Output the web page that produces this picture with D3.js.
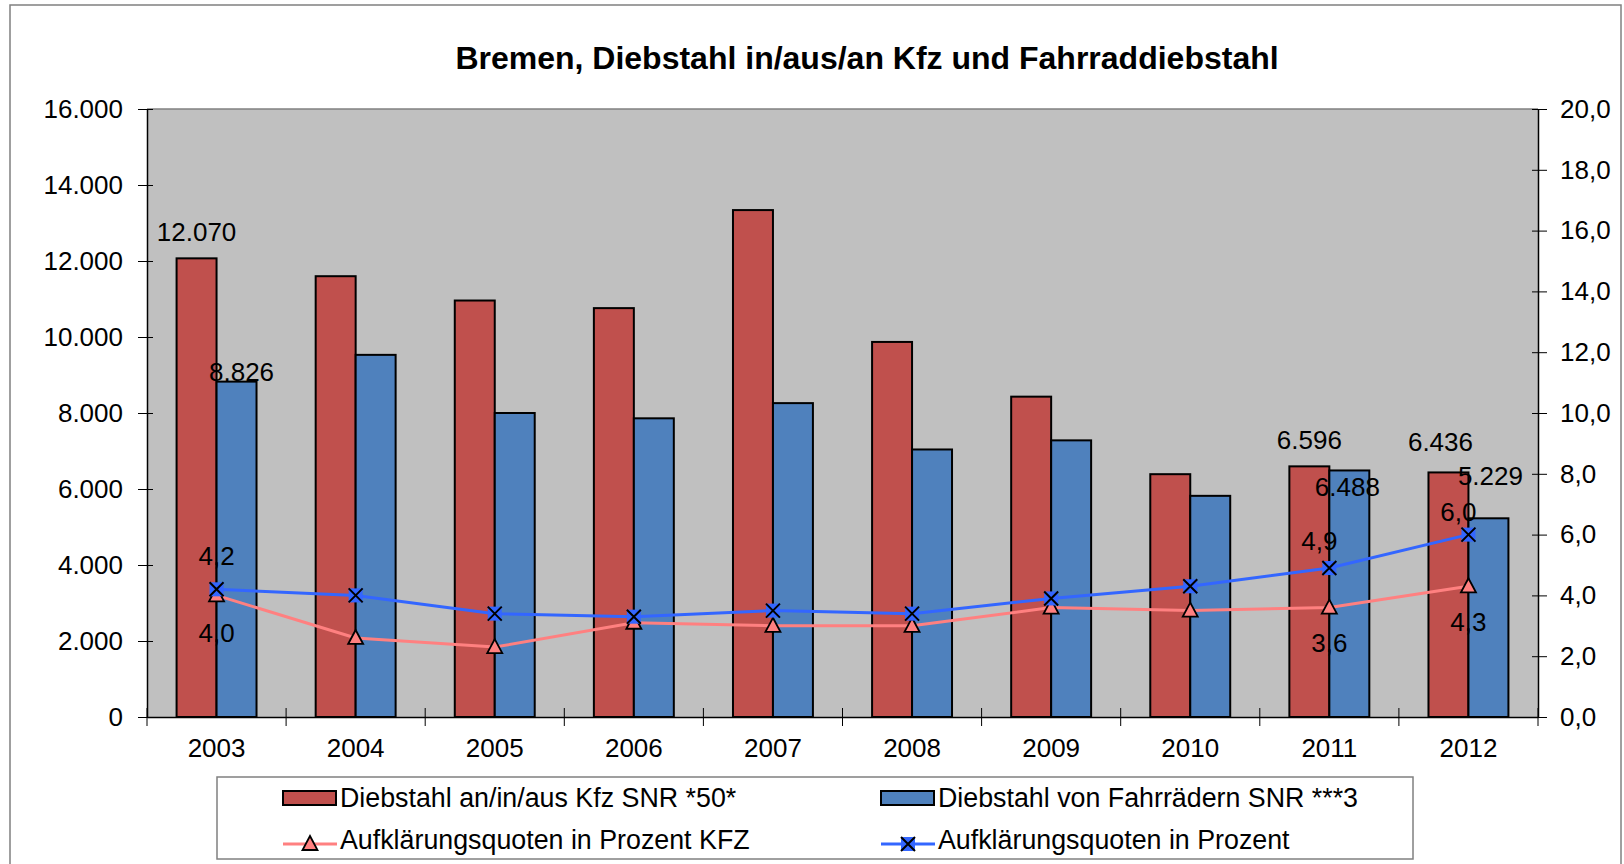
<!DOCTYPE html>
<html>
<head>
<meta charset="utf-8">
<script src="https://cdn.jsdelivr.net/npm/d3@7"></script>
<style>
  body { margin: 0; background: #fff; }
  text { font-family: "Liberation Sans", Arial, sans-serif; fill: #000; }
</style>
</head>
<body>
<div id="chart"></div>
<script>
(function(){
  // data
  const years = ["2003", "2004", "2005", "2006", "2007", "2008", "2009", "2010", "2011", "2012"];
  const kfzTheft = [12070, 11600, 10960, 10760, 13340, 9870, 8430, 6390, 6596, 6436];
  const bikeTheft = [8826, 9530, 8000, 7860, 8260, 7040, 7280, 5820, 6488, 5229];
  const rateKfz = [4.0, 2.6, 2.3, 3.1, 3.0, 3.0, 3.6, 3.5, 3.6, 4.3];
  const rateBike = [4.2, 4.0, 3.4, 3.3, 3.5, 3.4, 3.9, 4.3, 4.9, 6.0];
  const leftTicks = [0, 2000, 4000, 6000, 8000, 10000, 12000, 14000, 16000];
  const rightTicks = [0, 2, 4, 6, 8, 10, 12, 14, 16, 18, 20];
  const labelledYears = ["2003", "2011", "2012"];

  const width = 1624, height = 864;
  const plot = { left: 147, right: 1538, top: 109, bottom: 717 };

  const de = d3.formatLocale({ decimal: ",", thousands: ".", grouping: [3], currency: ["", "€"] });
  const fmtInt = de.format(",.0f");
  const fmt1 = de.format(",.1f");

  const svg = d3.select("#chart").append("svg")
    .attr("width", width).attr("height", height);

  // outer frame
  svg.append("rect")
    .attr("x", 10).attr("y", 5).attr("width", 1611).attr("height", 880)
    .attr("fill", "#fff").attr("stroke", "#808080").attr("stroke-width", 1.5);

  // title
  svg.append("text")
    .attr("x", 867).attr("y", 69)
    .attr("text-anchor", "middle")
    .style("font-size", "32px").style("font-weight", "bold")
    .text("Bremen, Diebstahl in/aus/an Kfz und Fahrraddiebstahl");

  // scales
  const x = d3.scaleBand().domain(years).range([plot.left, plot.right]);
  const xSub = d3.scaleBand().domain(["kfz", "bike"]).range([0, x.bandwidth()]).paddingOuter(0.74);
  const yL = d3.scaleLinear().domain([0, 16000]).range([plot.bottom, plot.top]);
  const yR = d3.scaleLinear().domain([0, 20]).range([plot.bottom, plot.top]);
  const cx = d => x(d) + x.bandwidth() / 2;

  // plot background
  svg.append("rect")
    .attr("x", plot.left).attr("y", plot.top)
    .attr("width", plot.right - plot.left).attr("height", plot.bottom - plot.top)
    .attr("fill", "#c0c0c0");
  svg.append("line")
    .attr("x1", plot.left).attr("x2", plot.right).attr("y1", plot.top).attr("y2", plot.top)
    .attr("stroke", "#808080").attr("stroke-width", 1.5);

  // bars
  const bars = [
    { key: "kfz", values: kfzTheft, color: "#c0504d" },
    { key: "bike", values: bikeTheft, color: "#4f81bd" }
  ];
  bars.forEach(s => {
    svg.append("g").selectAll("rect")
      .data(years.map((yr, i) => ({ yr, v: s.values[i] })))
      .join("rect")
      .attr("x", d => x(d.yr) + xSub(s.key))
      .attr("y", d => yL(d.v))
      .attr("width", xSub.bandwidth())
      .attr("height", d => yL(0) - yL(d.v))
      .attr("fill", s.color)
      .attr("stroke", "#000").attr("stroke-width", 2);
  });

  // axes
  const axisL = d3.axisLeft(yL).tickValues(leftTicks).tickFormat(d => fmtInt(d))
    .tickSizeInner(9).tickSizeOuter(0).tickPadding(15);
  const gL = svg.append("g").attr("transform", `translate(${plot.left},0)`).call(axisL);
  const axisR = d3.axisRight(yR).tickValues(rightTicks).tickFormat(d => fmt1(d))
    .tickSizeInner(9).tickSizeOuter(0).tickPadding(13);
  const gR = svg.append("g").attr("transform", `translate(${plot.right},0)`).call(axisR);
  const axisB = d3.axisBottom(x).tickSize(0).tickPadding(22);
  const gB = svg.append("g").attr("transform", `translate(0,${plot.bottom})`).call(axisB);

  [gL, gR, gB].forEach(g => {
    g.select(".domain").attr("stroke", "#000").attr("stroke-width", 1.5);
    g.selectAll(".tick line").attr("stroke", "#000");
    g.selectAll(".tick text").style("font-size", "26px").attr("font-family", null);
  });
  // crossing tick marks
  gL.selectAll(".tick line").attr("x1", 6);
  gR.selectAll(".tick line").attr("x1", -6);
  gB.selectAll(".tick text").attr("dy", "0.71em");
  svg.append("g").selectAll("line")
    .data(years.concat(["end"]))
    .join("line")
    .attr("x1", (d, i) => plot.left + i * x.step())
    .attr("x2", (d, i) => plot.left + i * x.step())
    .attr("y1", plot.bottom - 9).attr("y2", plot.bottom + 9)
    .attr("stroke", "#000").attr("stroke-width", 1);

  // lines
  const lines = [
    { key: "kfz", values: rateKfz, color: "#ff8080", marker: "tri" },
    { key: "bike", values: rateBike, color: "#3366ff", marker: "x" }
  ];
  const lineGen = d3.line().x(d => cx(d.yr)).y(d => yR(d.v));
  const triPath = "M0,-8 L7.5,6 L-7.5,6 Z";

  function drawMarker(g, type, color) {
    if (type === "tri") {
      g.append("path").attr("d", triPath)
        .attr("fill", color).attr("stroke", "#000").attr("stroke-width", 1.8);
    } else {
      g.append("rect").attr("x", -7).attr("y", -7).attr("width", 14).attr("height", 14)
        .attr("fill", color);
      g.append("path").attr("d", "M-7,-7 L7,7 M7,-7 L-7,7")
        .attr("stroke", "#000").attr("stroke-width", 2);
    }
  }

  lines.forEach(s => {
    const pts = years.map((yr, i) => ({ yr, v: s.values[i] }));
    svg.append("path").datum(pts)
      .attr("d", lineGen)
      .attr("fill", "none").attr("stroke", s.color).attr("stroke-width", 3);
  });
  // draw kfz markers first so the crosses sit on top
  lines.forEach(s => {
    years.forEach((yr, i) => {
      const g = svg.append("g").attr("transform", `translate(${cx(yr)},${yR(s.values[i])})`);
      drawMarker(g, s.marker, s.color);
    });
  });

  // data labels (offsets as placed in the original chart)
  const labelOffsets = {
    kfz: { "2003": [0, -26], "2011": [0, -26], "2012": [-8, -31] },
    bike: { "2003": [5, -10], "2011": [-2, 16], "2012": [2, -42] },
    rateKfz: { "2003": [0, 37], "2011": [0, 35], "2012": [0, 36] },
    rateBike: { "2003": [0, -33], "2011": [-10, -27], "2012": [-10, -23] }
  };
  const labelLayer = svg.append("g").style("font-size", "26px").attr("text-anchor", "middle");
  labelledYears.forEach(yr => {
    const i = years.indexOf(yr);
    const items = [
      { key: "kfz", x: x(yr) + xSub("kfz") + xSub.bandwidth() / 2, y: yL(kfzTheft[i]), t: fmtInt(kfzTheft[i]) },
      { key: "bike", x: x(yr) + xSub("bike") + xSub.bandwidth() / 2, y: yL(bikeTheft[i]), t: fmtInt(bikeTheft[i]) },
      { key: "rateKfz", x: cx(yr), y: yR(rateKfz[i]), t: fmt1(rateKfz[i]) },
      { key: "rateBike", x: cx(yr), y: yR(rateBike[i]), t: fmt1(rateBike[i]) }
    ];
    items.forEach(it => {
      const o = labelOffsets[it.key][yr];
      labelLayer.append("text")
        .attr("x", it.x + o[0]).attr("y", it.y + o[1])
        .attr("dy", "0.35em")
        .text(it.t);
    });
  });

  // legend
  const legend = svg.append("g");
  legend.append("rect")
    .attr("x", 217).attr("y", 777).attr("width", 1196).attr("height", 82)
    .attr("fill", "#fff").attr("stroke", "#808080").attr("stroke-width", 1.5);
  const legendItems = [
    { label: "Diebstahl an/in/aus Kfz SNR *50*", type: "bar", color: "#c0504d", lx: 283, ly: 798 },
    { label: "Diebstahl von Fahrrädern SNR ***3", type: "bar", color: "#4f81bd", lx: 881, ly: 798 },
    { label: "Aufklärungsquoten in Prozent KFZ", type: "line", marker: "tri", color: "#ff8080", lx: 283, ly: 840 },
    { label: "Aufklärungsquoten in Prozent", type: "line", marker: "x", color: "#3366ff", lx: 881, ly: 840 }
  ];
  legendItems.forEach(it => {
    if (it.type === "bar") {
      legend.append("rect")
        .attr("x", it.lx).attr("y", it.ly - 7).attr("width", 53).attr("height", 14)
        .attr("fill", it.color).attr("stroke", "#000").attr("stroke-width", 2);
    } else {
      legend.append("line")
        .attr("x1", it.lx).attr("x2", it.lx + 54).attr("y1", it.ly + 4).attr("y2", it.ly + 4)
        .attr("stroke", it.color).attr("stroke-width", 3);
      const g = legend.append("g").attr("transform", `translate(${it.lx + 27},${it.ly + 4})`);
      drawMarker(g, it.marker, it.color);
    }
    legend.append("text")
      .attr("x", it.lx + 57).attr("y", it.ly).attr("dy", "0.35em")
      .style("font-size", "26.8px")
      .text(it.label);
  });
})();
</script>
</body>
</html>
